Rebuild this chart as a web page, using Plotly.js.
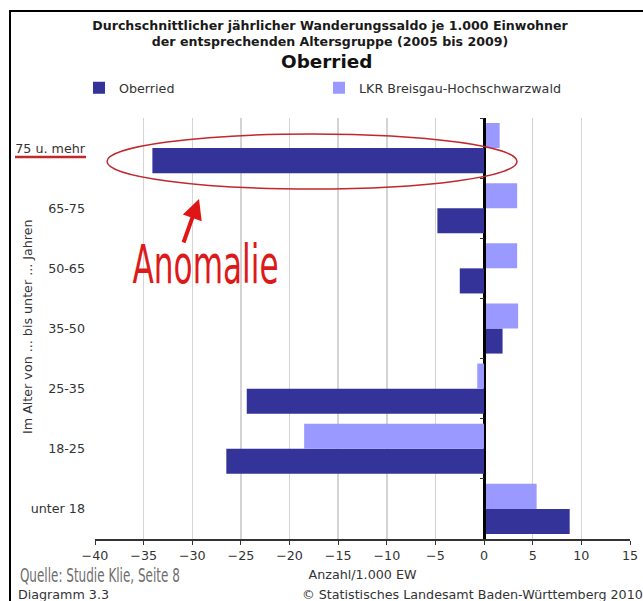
<!DOCTYPE html>
<html>
<head>
<meta charset="utf-8">
<script src="https://cdn.plot.ly/plotly-3.0.1.min.js"></script>
<style>html,body{margin:0;padding:0;background:#fff;}#chart{width:643px;height:601px;}</style>
</head>
<body>
<div id="chart"></div>
<script>
// Categories, bottom to top
const categories = ['unter 18', '18-25', '25-35', '35-50', '50-65', '65-75', '75 u. mehr'];
// Average annual migration balance per 1,000 inhabitants of the age group (2005-2009)
const oberried = [8.8, -26.5, -24.4, 1.9, -2.5, -4.8, -34.1];
const lkr = [5.4, -18.5, -0.7, 3.5, 3.4, 3.4, 1.6];
const xTicks = [-40, -35, -30, -25, -20, -15, -10, -5, 0, 5, 10, 15];

// pixel helpers for plot area (l=95, r=630, t=118, b=539)
const PL = 95, PR = 630, PT = 118, PB = 539;
const px = v => (v - PL) / (PR - PL);
const py = v => (PB - v) / (PB - PT);

const FONT = 'DejaVu Sans, Verdana, sans-serif';
const TXT = 12.7;

const barW = 0.417;
const traces = [
  {
    type: 'bar', orientation: 'h', name: 'Oberried',
    y: categories, x: oberried, yaxis: 'y',
    width: barW, offset: -barW,
    marker: {color: '#333399', line: {width: 0}},
    legend: 'legend', hoverinfo: 'x+y'
  },
  {
    type: 'bar', orientation: 'h', name: 'LKR Breisgau-Hochschwarzwald',
    y: categories, x: lkr, yaxis: 'y2',
    width: barW, offset: 0,
    marker: {color: '#9999ff', line: {width: 0}},
    legend: 'legend2', hoverinfo: 'x+y'
  }
];

const layout = {
  width: 643, height: 601,
  margin: {l: PL, r: 643 - PR, t: PT, b: 601 - PB, pad: 0},
  paper_bgcolor: '#ffffff', plot_bgcolor: '#ffffff',
  font: {family: FONT, size: TXT, color: '#333333'},
  title: {
    text: '<b>Durchschnittlicher jährlicher Wanderungssaldo je 1.000 Einwohner</b><br><b>der entsprechenden Altersgruppe (2005 bis 2009)</b>',
    font: {family: FONT, size: 12.6, color: '#1a1a1a'},
    x: 330 / 643, xanchor: 'center', y: 1 - 30 / 601, yanchor: 'top'
  },
  barmode: 'overlay',
  xaxis: {
    range: [-40, 15], tickvals: xTicks, ticktext: xTicks.map(v => v < 0 ? '\u2212' + Math.abs(v) : String(v)),
    showgrid: true, gridcolor: '#d4d4d4', gridwidth: 1.5,
    zeroline: true, zerolinecolor: '#000000', zerolinewidth: 1.5,
    showline: true, linecolor: '#333333', linewidth: 1.5,
    ticks: 'outside', ticklen: 4, tickcolor: '#333333',
    tickfont: {family: FONT, size: TXT, color: '#333333'},
    title: {text: 'Anzahl/1.000 EW', font: {family: FONT, size: TXT, color: '#333333'}, standoff: 8},
    automargin: false, fixedrange: true
  },
  yaxis: {
    type: 'category', categoryorder: 'array', categoryarray: categories,
    range: [-0.5, 6.5], showgrid: false, zeroline: false, showline: false,
    ticks: '', ticklabelstandoff: 9,
    tickfont: {family: FONT, size: TXT, color: '#333333'},
    automargin: false, fixedrange: true
  },
  yaxis2: {
    type: 'category', categoryorder: 'array', categoryarray: categories,
    range: [-0.5, 6.5], overlaying: 'y', anchor: 'free', position: 40 / 55, side: 'left',
    showgrid: false, zeroline: false, showline: true, linecolor: '#000000', linewidth: 1.5,
    ticks: 'outside', ticklen: 4, tickcolor: '#333333', tickson: 'boundaries',
    showticklabels: false, automargin: false, fixedrange: true
  },
  showlegend: true,
  legend: {
    orientation: 'h', x: px(79), xanchor: 'left', y: py(88), yanchor: 'middle',
    font: {family: FONT, size: TXT, color: '#333333'}, bgcolor: 'rgba(0,0,0,0)', itemwidth: 30
  },
  legend2: {
    orientation: 'h', x: px(319), xanchor: 'left', y: py(88), yanchor: 'middle',
    font: {family: FONT, size: TXT, color: '#333333'}, bgcolor: 'rgba(0,0,0,0)', itemwidth: 30
  },
  shapes: [
    // frame
    {type: 'line', xref: 'paper', yref: 'paper', x0: px(9), x1: px(645), y0: py(11), y1: py(11), line: {color: '#000', width: 2}},
    {type: 'line', xref: 'paper', yref: 'paper', x0: px(10), x1: px(10), y0: py(10), y1: py(603), line: {color: '#000', width: 2}},
    // ellipse around anomaly
    {type: 'circle', xref: 'paper', yref: 'paper', x0: px(107), x1: px(517), y0: py(189), y1: py(134), line: {color: '#c0282d', width: 1.5}},
    // underline of "75 u. mehr"
    {type: 'line', xref: 'paper', yref: 'paper', x0: px(15), x1: px(86), y0: py(157), y1: py(157), line: {color: '#c0282d', width: 2.5}}
  ],
  annotations: [
    {text: '<b>Oberried</b>', xref: 'paper', yref: 'paper', x: px(326), y: py(61), xanchor: 'center', yanchor: 'middle', showarrow: false, font: {family: FONT, size: 18.4, color: '#111111'}},
    {text: 'Im Alter von ... bis unter ... Jahren', xref: 'paper', yref: 'paper', x: px(27), y: py(327), textangle: -90, xanchor: 'center', yanchor: 'middle', showarrow: false, font: {family: FONT, size: TXT, color: '#333333'}},
    {text: 'Anomalie', xref: 'paper', yref: 'paper', x: px(205), y: py(264), xanchor: 'center', yanchor: 'middle', showarrow: false, font: {family: FONT, size: 54, color: '#dd1a1a'}},
    {text: '', xref: 'paper', yref: 'paper', x: px(199), y: py(199), ax: -16, ay: 45, showarrow: true, arrowhead: 2, arrowsize: 1, arrowwidth: 4, arrowcolor: '#e01515'},
    {text: 'Quelle: Studie Klie, Seite 8', xref: 'paper', yref: 'paper', x: px(100), y: py(575), xanchor: 'center', yanchor: 'middle', showarrow: false, font: {family: FONT, size: 19.5, color: '#6e6e6e'}},
    {text: 'Diagramm 3.3', xref: 'paper', yref: 'paper', x: px(16), y: py(594), xanchor: 'left', yanchor: 'middle', showarrow: false, font: {family: FONT, size: TXT, color: '#333333'}},
    {text: '© Statistisches Landesamt Baden-Württemberg 2010', xref: 'paper', yref: 'paper', x: px(645), y: py(594), xanchor: 'right', yanchor: 'middle', showarrow: false, font: {family: FONT, size: TXT, color: '#333333'}}
  ]
};

// condensed hand-written style labels: squeeze glyphs to the reference widths
const squeeze = {'Anomalie': 146, 'Quelle: Studie Klie, Seite 8': 160};

Plotly.newPlot('chart', traces, layout, {displayModeBar: false, staticPlot: true}).then(gd => {
  gd.querySelectorAll('.annotation-text').forEach(t => {
    const w = squeeze[t.textContent];
    if (w) {
      t.setAttribute('textLength', w);
      t.setAttribute('lengthAdjust', 'spacingAndGlyphs');
    }
  });
});
</script>
</body>
</html>
